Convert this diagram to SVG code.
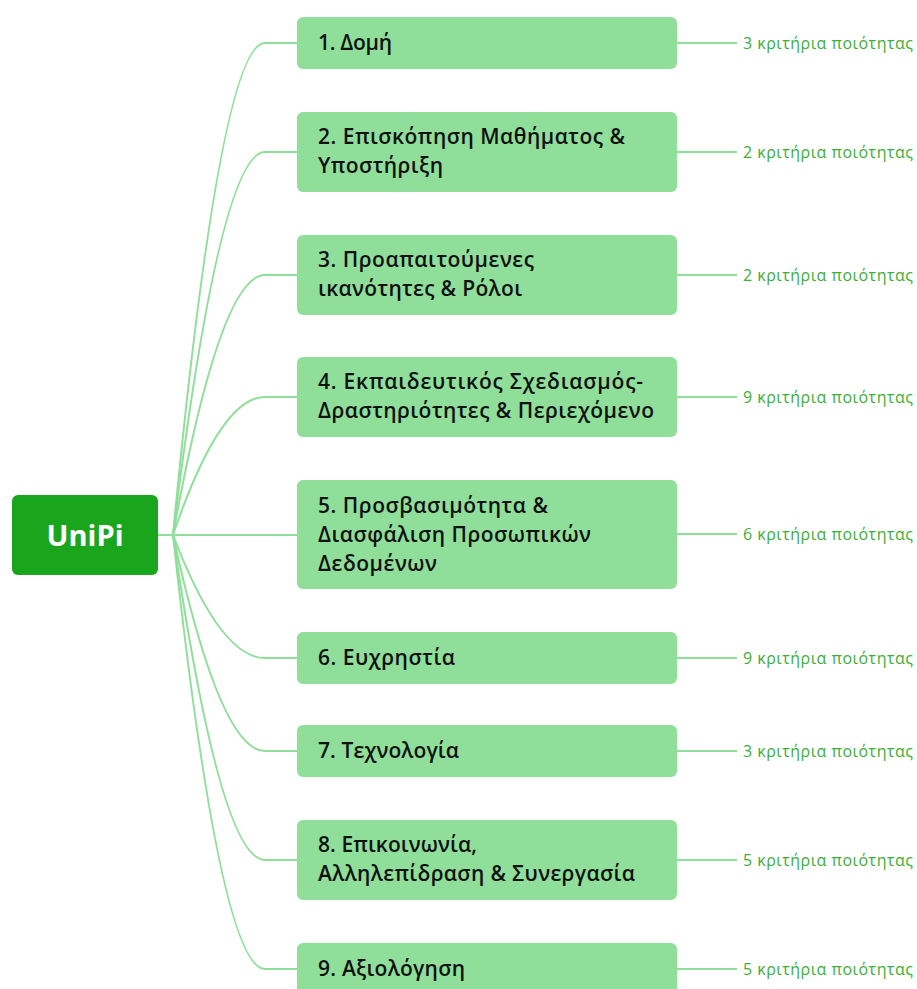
<svg xmlns="http://www.w3.org/2000/svg" width="917" height="989" viewBox="0 0 917 989">
<style>
.box{fill:#8fdf9a}
.lbl{font-family:"Open Sans","Noto Sans","DejaVu Sans",sans-serif;font-weight:600;font-size:21px;fill:#111}
.cnt{font-family:"Open Sans","Noto Sans","DejaVu Sans",sans-serif;font-size:16px;fill:#3dae38}
.ln{fill:none;stroke:#8fdf9a;stroke-width:2}
</style>
<rect width="917" height="989" fill="#fff"/>
<g id="connectors">
<path class="ln" d="M158,535 L173,535"/>
<path class="ln" d="M173,535 Q220,43 265,43 L297,43"/>
<path class="ln" d="M173,535 Q220,152 265,152 L297,152"/>
<path class="ln" d="M173,535 Q220,275 265,275 L297,275"/>
<path class="ln" d="M173,535 Q220,397 265,397 L297,397"/>
<path class="ln" d="M173,535 L297,535"/>
<path class="ln" d="M173,535 Q220,658 265,658 L297,658"/>
<path class="ln" d="M173,535 Q220,751 265,751 L297,751"/>
<path class="ln" d="M173,535 Q220,860 265,860 L297,860"/>
<path class="ln" d="M173,535 Q220,969 265,969 L297,969"/>
<path class="ln" d="M677,43 H737 M677,152 H737 M677,275 H737 M677,397 H737 M677,534 H737 M677,658 H737 M677,751 H737 M677,860 H737 M677,969 H737"/>
</g>
<g id="root">
<rect x="12" y="495" width="146" height="80" rx="6" fill="#1aa61c"/>
<text x="85" y="546" text-anchor="middle" font-family="'Open Sans','Noto Sans',sans-serif" font-weight="700" font-size="29" fill="#fff" textLength="77">UniPi</text>
</g>
<g id="n1"><rect class="box" x="297" y="17" width="380" height="52" rx="6"/>
<text class="lbl" x="318" y="50" textLength="74">1. Δομή</text>
<text class="cnt" x="743" y="49" textLength="170">3 κριτήρια ποιότητας</text></g>
<g id="n2"><rect class="box" x="297" y="112" width="380" height="80" rx="6"/>
<text class="lbl" x="318" y="144" textLength="307">2. Επισκόπηση Μαθήματος &amp;</text>
<text class="lbl" x="318" y="173" textLength="125">Υποστήριξη</text>
<text class="cnt" x="743" y="158" textLength="170">2 κριτήρια ποιότητας</text></g>
<g id="n3"><rect class="box" x="297" y="235" width="380" height="80" rx="6"/>
<text class="lbl" x="318" y="267" textLength="216">3. Προαπαιτούμενες</text>
<text class="lbl" x="318" y="296" textLength="204">ικανότητες &amp; Ρόλοι</text>
<text class="cnt" x="743" y="281" textLength="170">2 κριτήρια ποιότητας</text></g>
<g id="n4"><rect class="box" x="297" y="357" width="380" height="80" rx="6"/>
<text class="lbl" x="318" y="389" textLength="325">4. Εκπαιδευτικός Σχεδιασμός-</text>
<text class="lbl" x="318" y="418" textLength="336">Δραστηριότητες &amp; Περιεχόμενο</text>
<text class="cnt" x="743" y="403" textLength="170">9 κριτήρια ποιότητας</text></g>
<g id="n5"><rect class="box" x="297" y="480" width="380" height="109" rx="6"/>
<text class="lbl" x="318" y="513" textLength="230">5. Προσβασιμότητα &amp;</text>
<text class="lbl" x="318" y="542" textLength="273">Διασφάλιση Προσωπικών</text>
<text class="lbl" x="318" y="571" textLength="119">Δεδομένων</text>
<text class="cnt" x="743" y="540" textLength="170">6 κριτήρια ποιότητας</text></g>
<g id="n6"><rect class="box" x="297" y="632" width="380" height="52" rx="6"/>
<text class="lbl" x="318" y="665" textLength="137">6. Ευχρηστία</text>
<text class="cnt" x="743" y="664" textLength="170">9 κριτήρια ποιότητας</text></g>
<g id="n7"><rect class="box" x="297" y="725" width="380" height="52" rx="6"/>
<text class="lbl" x="318" y="758" textLength="141">7. Τεχνολογία</text>
<text class="cnt" x="743" y="757" textLength="170">3 κριτήρια ποιότητας</text></g>
<g id="n8"><rect class="box" x="297" y="820" width="380" height="80" rx="6"/>
<text class="lbl" x="318" y="852" textLength="159">8. Επικοινωνία,</text>
<text class="lbl" x="318" y="881" textLength="317">Αλληλεπίδραση &amp; Συνεργασία</text>
<text class="cnt" x="743" y="866" textLength="170">5 κριτήρια ποιότητας</text></g>
<g id="n9"><rect class="box" x="297" y="943" width="380" height="52" rx="6"/>
<text class="lbl" x="318" y="976" textLength="147">9. Αξιολόγηση</text>
<text class="cnt" x="743" y="975" textLength="170">5 κριτήρια ποιότητας</text></g>
</svg>
